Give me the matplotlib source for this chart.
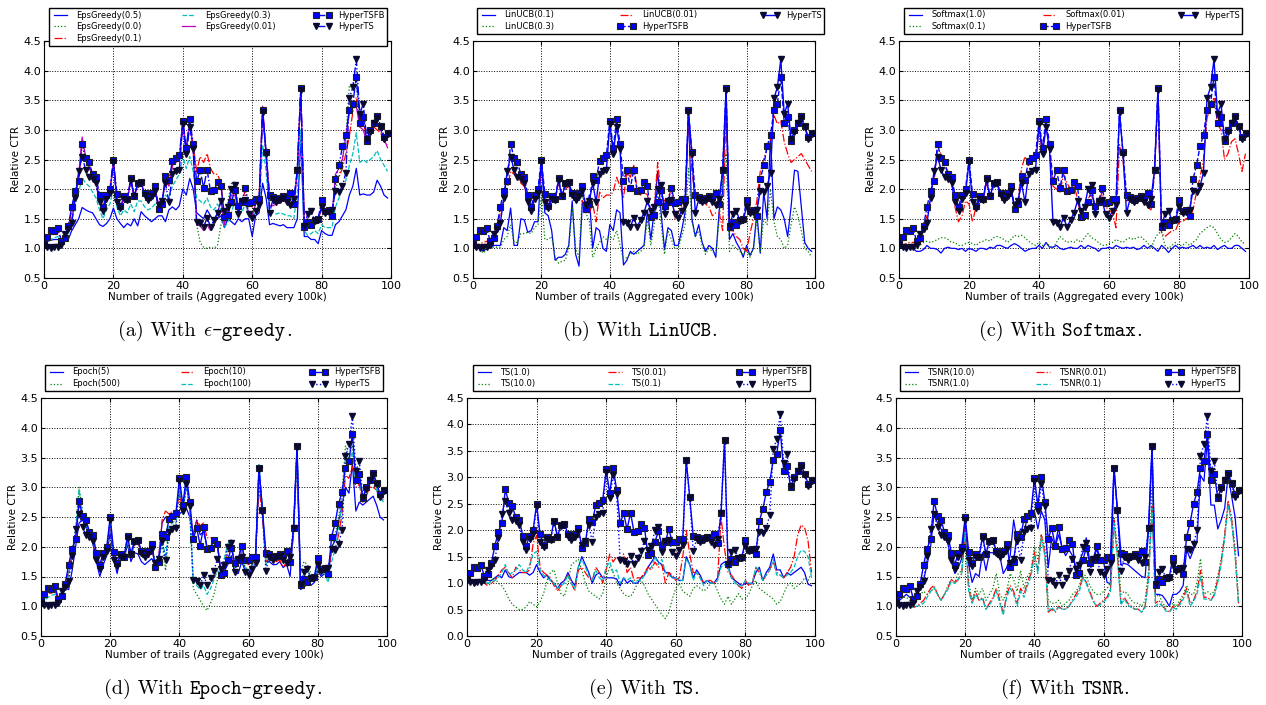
import numpy as np
import matplotlib
matplotlib.use("Agg")
import matplotlib.pyplot as plt

plt.rcParams['mathtext.fontset'] = 'cm'
plt.rcParams['font.family'] = 'DejaVu Sans'

trails = np.arange(100)

# shared curves (same in every panel)
hyper_tsfb = [1.10, 1.20, 1.31, 1.29, 1.34, 1.13, 1.17, 1.38, 1.70, 1.97,
              2.13, 2.77, 2.52, 2.45, 2.25, 2.20, 1.90, 1.70, 1.90, 2.00,
              2.50, 1.92, 1.72, 1.88, 1.83, 2.18, 1.88, 2.10, 2.12, 1.93,
              1.87, 1.93, 2.05, 1.66, 1.75, 2.22, 2.16, 2.47, 2.52, 2.57,
              3.15, 2.70, 3.18, 2.76, 2.13, 2.32, 2.02, 2.33, 1.96, 1.98,
              2.12, 2.05, 1.53, 1.56, 1.78, 1.98, 1.72, 1.78, 2.02, 1.77,
              1.78, 1.83, 1.83, 3.33, 2.62, 1.90, 1.87, 1.82, 1.85, 1.88,
              1.87, 1.93, 1.75, 2.32, 3.70, 1.36, 1.45, 1.40, 1.48, 1.50,
              1.81, 1.63, 1.65, 1.55, 2.17, 2.40, 2.72, 2.92, 3.33, 3.44,
              3.90, 3.12, 3.22, 2.82, 3.00, 3.12, 3.24, 3.07, 2.88, 2.95]
hyper_ts = [1.05, 1.02, 1.00, 1.02, 1.02, 1.05, 1.25, 1.33, 1.43, 1.85,
            2.30, 2.55, 2.33, 2.20, 2.17, 2.10, 1.78, 1.63, 1.83, 1.93,
            2.45, 1.78, 1.68, 1.83, 1.82, 2.15, 1.88, 2.08, 2.10, 1.90,
            1.82, 1.88, 1.97, 1.73, 1.80, 2.10, 1.78, 2.25, 2.30, 2.32,
            3.10, 2.60, 3.05, 2.68, 1.44, 1.42, 1.36, 1.52, 1.36, 1.48,
            1.60, 1.80, 1.63, 1.70, 2.00, 2.07, 1.58, 1.80, 1.82, 1.58,
            1.52, 1.63, 1.73, 3.30, 2.60, 1.60, 1.83, 1.78, 1.82, 1.85,
            1.78, 1.73, 1.83, 2.32, 3.68, 1.37, 1.58, 1.63, 1.47, 1.48,
            1.70, 1.60, 1.62, 1.65, 1.97, 1.95, 2.05, 2.28, 3.53, 3.72,
            4.19, 3.27, 3.44, 2.84, 2.97, 3.12, 3.20, 3.05, 2.84, 2.93]

# (a) epsilon-greedy
eps_05 = [1.05, 1.12, 1.14, 1.15, 1.15, 1.10, 1.12, 1.15, 1.30, 1.40,
          1.50, 1.69, 1.65, 1.62, 1.60, 1.50, 1.40, 1.37, 1.42, 1.50,
          1.68, 1.50, 1.42, 1.35, 1.42, 1.38, 1.50, 1.38, 1.62, 1.55,
          1.50, 1.45, 1.50, 1.55, 1.55, 1.45, 1.65, 1.70, 1.65, 1.72,
          2.00, 1.90, 2.18, 2.00, 1.60, 1.55, 1.50, 1.65, 1.55, 1.45,
          1.50, 1.55, 1.35, 1.50, 1.45, 1.40, 1.50, 1.45, 1.50, 1.50,
          1.20, 1.55, 1.60, 2.10, 1.85, 1.40, 1.42, 1.40, 1.38, 1.40,
          1.35, 1.35, 1.35, 1.50, 2.90, 1.20, 1.20, 1.15, 1.15, 1.08,
          1.30, 1.25, 1.22, 1.22, 1.40, 1.45, 1.55, 1.65, 1.90, 2.05,
          2.35, 1.90, 1.92, 1.90, 1.90, 1.95, 2.15, 2.05, 1.90, 1.85]
eps_00 = [1.05, 1.05, 1.05, 1.05, 1.05, 1.05, 1.20, 1.35, 1.50, 1.85,
          2.20, 2.80, 2.50, 2.35, 2.20, 2.10, 1.80, 1.65, 1.85, 1.95,
          2.45, 1.85, 1.70, 1.85, 1.82, 2.15, 1.88, 2.08, 2.10, 1.90,
          1.85, 1.90, 2.00, 1.70, 1.78, 2.15, 2.05, 2.40, 2.45, 2.50,
          3.15, 2.65, 3.15, 2.70, 1.40, 1.10, 1.02, 1.00, 1.02, 1.00,
          1.05, 1.40, 1.55, 1.80, 2.10, 2.12, 1.70, 1.75, 1.90, 1.62,
          1.55, 1.75, 1.80, 3.30, 2.60, 1.80, 1.85, 1.80, 1.83, 1.85,
          1.80, 1.80, 1.78, 2.30, 3.65, 1.40, 1.45, 1.45, 1.45, 1.48,
          1.70, 1.60, 1.62, 1.58, 2.00, 2.20, 2.50, 2.90, 3.75, 3.70,
          3.75, 3.20, 3.25, 2.90, 3.00, 3.10, 3.20, 3.05, 2.90, 2.85]
eps_01 = [1.08, 1.15, 1.25, 1.25, 1.28, 1.12, 1.15, 1.35, 1.65, 1.95,
          2.15, 2.80, 2.50, 2.40, 2.22, 2.15, 1.85, 1.68, 1.88, 1.98,
          2.45, 1.90, 1.72, 1.85, 1.82, 2.15, 1.88, 2.08, 2.10, 1.92,
          1.85, 1.90, 2.02, 1.70, 1.78, 2.15, 2.10, 2.40, 2.45, 2.52,
          3.10, 2.68, 3.12, 2.72, 2.30, 2.55, 2.45, 2.60, 2.35, 2.25,
          2.25, 2.10, 1.55, 1.60, 1.80, 1.95, 1.72, 1.78, 1.98, 1.75,
          1.70, 1.82, 1.90, 3.35, 2.60, 1.88, 1.85, 1.80, 1.85, 1.85,
          1.85, 1.88, 1.75, 2.30, 3.65, 1.40, 1.45, 1.45, 1.48, 1.48,
          1.75, 1.62, 1.62, 1.55, 2.10, 2.20, 2.35, 2.60, 2.90, 3.30,
          3.55, 3.05, 3.15, 2.85, 2.95, 3.05, 3.00, 2.95, 2.80, 2.75]
eps_03 = [1.05, 1.10, 1.15, 1.18, 1.20, 1.12, 1.15, 1.25, 1.50, 1.75,
          1.95, 2.20, 2.10, 2.05, 1.95, 1.85, 1.65, 1.50, 1.65, 1.75,
          2.00, 1.70, 1.55, 1.65, 1.60, 1.75, 1.62, 1.80, 1.80, 1.70,
          1.65, 1.68, 1.75, 1.65, 1.70, 1.90, 1.85, 2.05, 2.15, 2.25,
          2.55, 2.35, 2.55, 2.30, 1.85, 1.80, 1.75, 1.85, 1.70, 1.65,
          1.75, 1.65, 1.35, 1.45, 1.60, 1.80, 1.60, 1.60, 1.75, 1.55,
          1.55, 1.60, 1.65, 2.75, 2.30, 1.60, 1.60, 1.58, 1.60, 1.58,
          1.55, 1.55, 1.50, 1.95, 3.00, 1.30, 1.22, 1.25, 1.30, 1.25,
          1.40, 1.35, 1.35, 1.35, 1.70, 1.85, 2.00, 2.15, 2.40, 2.60,
          2.95, 2.45, 2.50, 2.45, 2.50, 2.55, 2.65, 2.50, 2.40, 2.30]
eps_001 = [1.05, 1.05, 1.05, 1.05, 1.05, 1.08, 1.20, 1.35, 1.45, 1.90,
           2.25, 2.88, 2.55, 2.40, 2.22, 2.12, 1.80, 1.65, 1.85, 1.95,
           2.45, 1.85, 1.70, 1.85, 1.82, 2.15, 1.88, 2.08, 2.10, 1.90,
           1.85, 1.90, 2.00, 1.75, 1.80, 2.15, 2.05, 2.40, 2.45, 2.50,
           3.15, 2.65, 3.15, 2.65, 1.40, 1.38, 1.30, 1.40, 1.30, 1.45,
           1.60, 1.80, 1.40, 1.65, 1.90, 1.90, 1.65, 1.75, 1.80, 1.60,
           1.55, 1.75, 1.80, 3.40, 2.60, 1.72, 1.72, 1.75, 1.80, 1.82,
           1.75, 1.72, 1.75, 2.30, 3.70, 1.40, 1.50, 1.45, 1.45, 1.50,
           1.65, 1.60, 1.65, 1.55, 2.25, 2.35, 2.50, 2.90, 3.30, 3.40,
           3.40, 3.05, 3.00, 2.80, 2.95, 3.05, 3.10, 3.00, 2.85, 2.70]

# (b) LinUCB
linucb_01 = [1.05, 1.00, 1.00, 0.95, 1.00, 1.00, 1.05, 1.05, 1.05, 1.35,
             1.30, 1.68, 1.05, 1.05, 1.50, 1.48, 1.27, 1.30, 1.45, 1.45,
             2.45, 1.60, 1.55, 1.30, 0.80, 0.85, 0.85, 0.90, 1.05, 1.80,
             0.90, 0.70, 1.80, 1.60, 1.90, 1.00, 1.35, 1.30, 1.00, 0.95,
             1.40, 1.30, 1.65, 1.60, 0.72, 0.80, 0.95, 0.90, 0.95, 1.00,
             1.05, 1.65, 1.15, 1.65, 2.30, 1.60, 0.98, 1.35, 1.30, 1.05,
             1.05, 1.30, 1.60, 3.30, 1.50, 1.20, 1.40, 1.10, 0.95, 1.05,
             1.00, 0.85, 1.65, 1.95, 3.60, 1.15, 1.25, 1.10, 1.00, 0.85,
             1.05, 0.88, 1.00, 1.60, 0.92, 1.95, 1.50, 2.90, 1.50, 1.70,
             1.65, 1.50, 1.20, 1.70, 2.32, 2.30, 1.70, 1.10, 1.00, 0.95]
linucb_03 = [1.00, 0.98, 0.98, 0.92, 0.98, 1.00, 1.02, 1.02, 1.02, 1.15,
             1.20, 1.40, 1.10, 1.10, 1.25, 1.25, 1.27, 1.25, 1.35, 1.40,
             1.90, 1.15, 1.15, 1.20, 0.85, 0.75, 0.78, 0.80, 1.00, 1.70,
             1.00, 0.85, 1.95, 1.60, 1.45, 0.85, 1.00, 1.10, 1.20, 1.15,
             1.20, 1.15, 1.30, 1.05, 0.80, 0.85, 0.90, 0.95, 0.90, 0.95,
             1.00, 1.50, 1.05, 1.40, 1.95, 1.40, 0.90, 1.30, 1.15, 1.00,
             1.00, 1.20, 1.40, 2.35, 1.45, 1.20, 1.30, 1.05, 0.90, 1.00,
             0.95, 0.90, 1.50, 2.15, 2.60, 0.95, 1.05, 1.00, 0.95, 0.90,
             1.00, 0.85, 1.00, 1.50, 0.95, 1.50, 1.40, 2.00, 1.45, 1.20,
             1.15, 1.00, 1.05, 1.40, 1.70, 1.55, 1.30, 1.00, 0.95, 0.85]
linucb_001 = [1.00, 1.05, 1.08, 1.10, 1.12, 1.15, 1.25, 1.35, 1.60, 1.80,
              2.00, 2.30, 2.25, 2.20, 2.10, 2.05, 1.80, 1.70, 1.85, 1.90,
              2.40, 1.90, 1.80, 1.85, 1.80, 2.10, 1.85, 2.00, 2.05, 1.90,
              1.85, 1.85, 1.80, 1.65, 1.60, 1.75, 1.45, 1.95, 1.85, 1.90,
              1.90, 1.95, 2.20, 2.05, 1.85, 2.30, 2.20, 2.40, 2.00, 1.90,
              1.95, 1.90, 1.60, 1.70, 2.45, 1.90, 1.80, 1.85, 2.00, 1.50,
              1.60, 1.70, 1.80, 3.20, 2.30, 1.90, 1.85, 1.80, 1.75, 1.70,
              1.55, 1.60, 1.60, 1.30, 3.40, 1.30, 1.30, 1.20, 1.15, 1.00,
              0.95, 1.25, 1.50, 1.80, 2.30, 2.50, 2.70, 2.80, 3.25, 3.10,
              3.15, 2.80, 2.60, 2.45, 2.50, 2.55, 2.60, 2.50, 2.40, 2.30]

# (c) Softmax
softmax_10 = [1.05, 1.00, 0.98, 1.00, 1.00, 0.95, 0.95, 0.98, 1.05, 1.00,
              1.00, 0.98, 0.92, 1.00, 1.02, 1.00, 1.00, 0.98, 1.00, 0.95,
              1.00, 0.98, 0.95, 1.00, 1.00, 0.98, 1.02, 1.00, 1.05, 1.05,
              1.02, 1.00, 1.05, 1.08, 1.05, 1.00, 0.95, 0.98, 1.00, 1.00,
              1.05, 1.00, 1.10, 1.02, 1.02, 1.05, 1.00, 0.98, 1.00, 1.02,
              1.00, 1.00, 1.05, 1.00, 1.05, 1.02, 1.00, 0.95, 1.00, 1.00,
              1.02, 1.00, 1.05, 1.02, 1.00, 1.02, 1.00, 1.02, 0.98, 1.00,
              1.05, 1.00, 1.05, 1.00, 0.95, 1.05, 1.00, 0.93, 1.00, 1.05,
              1.00, 1.02, 1.00, 1.02, 1.05, 1.00, 1.05, 1.00, 1.02, 1.00,
              1.05, 0.98, 1.02, 1.05, 1.00, 1.00, 1.05, 1.05, 1.00, 0.95]
softmax_01 = [1.05, 1.02, 1.00, 1.00, 1.00, 1.00, 1.05, 1.10, 1.12, 1.10,
              1.12, 1.15, 1.18, 1.18, 1.15, 1.10, 1.10, 1.05, 1.05, 1.08,
              1.10, 1.08, 1.05, 1.10, 1.12, 1.15, 1.12, 1.18, 1.20, 1.18,
              1.15, 1.10, 1.15, 1.22, 1.20, 1.22, 1.18, 1.12, 1.08, 1.05,
              1.10, 1.05, 1.08, 1.05, 1.00, 1.10, 1.20, 1.15, 1.10, 1.12,
              1.10, 1.15, 1.10, 1.18, 1.25, 1.18, 1.15, 1.10, 1.05, 1.05,
              1.08, 1.10, 1.15, 1.12, 1.10, 1.15, 1.18, 1.15, 1.18, 1.20,
              1.15, 1.10, 1.00, 1.15, 1.25, 1.28, 1.05, 1.00, 1.05, 1.10,
              1.05, 1.05, 1.10, 1.05, 1.10, 1.15, 1.25, 1.30, 1.35, 1.38,
              1.35, 1.25, 1.15, 1.10, 1.12, 1.18, 1.25, 1.20, 1.10, 1.08]
softmax_001 = [1.05, 1.05, 1.08, 1.10, 1.10, 1.10, 1.20, 1.35, 1.55, 1.85,
               2.20, 2.65, 2.60, 2.40, 2.30, 2.20, 1.70, 1.45, 1.55, 1.80,
               1.75, 1.45, 1.70, 1.85, 1.80, 2.10, 1.85, 2.05, 2.10, 1.90,
               1.85, 1.90, 2.00, 1.75, 1.80, 2.35, 2.55, 2.40, 2.45, 2.50,
               3.00, 2.60, 3.10, 2.65, 2.05, 2.00, 1.95, 2.25, 2.10, 2.00,
               2.05, 1.85, 1.50, 1.60, 1.85, 1.90, 1.70, 1.75, 1.95, 1.70,
               1.65, 1.60, 1.35, 2.75, 2.50, 1.80, 1.85, 1.80, 1.80, 1.82,
               1.75, 1.70, 1.65, 2.25, 3.60, 1.25, 1.20, 1.25, 1.30, 1.30,
               1.45, 1.45, 1.50, 1.50, 1.65, 1.95, 2.20, 2.50, 3.20, 3.40,
               3.55, 3.10, 3.00, 2.50, 2.60, 2.80, 2.85, 2.60, 2.30, 2.60]

# (d) Epoch-greedy
epoch_5 = [1.08, 1.20, 1.28, 1.28, 1.28, 1.10, 1.20, 1.30, 1.28, 1.60,
           2.00, 2.40, 2.45, 2.35, 2.20, 2.05, 1.75, 1.50, 1.70, 1.85,
           2.25, 1.80, 1.55, 1.85, 1.78, 2.05, 1.75, 1.90, 1.88, 1.75,
           1.70, 1.75, 1.80, 1.72, 1.80, 2.40, 2.50, 2.45, 2.50, 2.60,
           2.55, 2.60, 2.65, 2.50, 2.20, 2.45, 2.20, 2.25, 2.00, 2.00,
           2.10, 2.00, 1.60, 1.60, 1.70, 1.85, 1.55, 1.55, 1.75, 1.60,
           1.55, 1.70, 1.80, 3.30, 2.60, 1.75, 1.75, 1.70, 1.70, 1.75,
           1.65, 1.70, 1.50, 2.30, 3.65, 1.28, 1.32, 1.38, 1.35, 1.40,
           1.60, 1.50, 1.55, 1.50, 2.00, 2.10, 2.40, 2.70, 3.00, 2.90,
           3.40, 2.60, 2.75, 2.70, 2.75, 2.80, 2.85, 2.70, 2.50, 2.45]
epoch_500 = [1.05, 1.05, 1.05, 1.05, 1.05, 1.05, 1.20, 1.35, 1.50, 1.90,
             2.30, 3.00, 2.60, 2.40, 2.20, 2.10, 1.80, 1.65, 1.85, 1.95,
             2.40, 1.85, 1.70, 1.85, 1.80, 2.10, 1.85, 2.05, 2.10, 1.90,
             1.85, 1.90, 2.00, 1.75, 1.80, 2.05, 1.60, 2.30, 2.35, 2.40,
             3.00, 2.55, 3.05, 2.60, 1.30, 1.20, 1.10, 1.00, 0.93, 1.05,
             1.20, 1.45, 1.60, 1.80, 2.05, 2.10, 1.65, 1.80, 1.90, 1.65,
             1.60, 1.70, 1.80, 3.35, 2.60, 1.70, 1.80, 1.75, 1.80, 1.82,
             1.75, 1.72, 1.80, 2.30, 3.60, 1.55, 1.75, 1.70, 1.55, 1.50,
             1.70, 1.60, 1.60, 1.55, 1.95, 2.20, 2.50, 2.90, 3.70, 3.50,
             3.70, 3.10, 3.20, 2.80, 2.95, 3.05, 3.15, 3.00, 2.85, 2.75]
epoch_10 = [1.05, 1.12, 1.22, 1.22, 1.25, 1.10, 1.18, 1.32, 1.60, 1.90,
            2.15, 2.70, 2.50, 2.40, 2.25, 2.15, 1.85, 1.60, 1.85, 1.95,
            2.40, 1.85, 1.65, 1.85, 1.80, 2.10, 1.85, 2.05, 2.08, 1.90,
            1.82, 1.88, 1.95, 1.72, 1.80, 2.45, 2.60, 2.55, 2.60, 2.55,
            2.90, 2.60, 3.10, 2.65, 2.20, 2.45, 2.35, 2.40, 2.15, 2.15,
            2.15, 2.05, 1.55, 1.65, 1.90, 2.05, 1.70, 1.80, 2.05, 1.75,
            1.70, 1.80, 1.85, 3.00, 2.50, 1.75, 1.80, 1.75, 1.75, 1.78,
            1.65, 1.75, 1.75, 2.20, 3.55, 1.35, 1.42, 1.45, 1.45, 1.48,
            1.70, 1.60, 1.60, 1.55, 1.95, 1.95, 2.20, 2.55, 3.20, 3.15,
            3.35, 3.00, 3.05, 2.75, 2.85, 3.00, 3.00, 2.95, 2.80, 2.80]
epoch_100 = [1.05, 1.08, 1.15, 1.18, 1.20, 1.10, 1.15, 1.30, 1.55, 1.85,
             2.25, 2.95, 2.55, 2.40, 2.20, 2.10, 1.80, 1.65, 1.85, 1.95,
             2.40, 1.85, 1.70, 1.85, 1.80, 2.10, 1.85, 2.05, 2.10, 1.90,
             1.85, 1.90, 2.00, 1.75, 1.80, 2.15, 1.80, 2.35, 2.40, 2.45,
             3.05, 2.60, 3.05, 2.60, 1.40, 1.35, 1.28, 1.35, 1.20, 1.30,
             1.45, 1.60, 1.55, 1.80, 2.05, 2.12, 1.65, 1.80, 1.95, 1.65,
             1.60, 1.70, 1.80, 3.38, 2.60, 1.70, 1.80, 1.75, 1.80, 1.82,
             1.75, 1.72, 1.78, 2.25, 3.60, 1.40, 1.55, 1.60, 1.50, 1.48,
             1.65, 1.55, 1.55, 1.40, 1.75, 1.95, 2.30, 2.80, 3.50, 3.40,
             3.60, 3.05, 3.15, 2.80, 2.90, 3.05, 3.15, 2.95, 2.85, 2.75]

# (e) TS
ts_10 = [1.00, 1.00, 1.00, 1.02, 1.02, 1.05, 1.05, 1.05, 1.10, 1.15,
         1.10, 1.25, 1.12, 1.10, 1.15, 1.20, 1.20, 1.20, 1.15, 1.20,
         1.35, 1.20, 1.10, 1.15, 1.05, 1.00, 0.90, 1.00, 1.05, 1.20,
         1.05, 0.95, 1.30, 1.50, 1.35, 1.20, 1.00, 1.15, 1.20, 1.10,
         1.10, 1.10, 1.10, 1.08, 0.95, 1.10, 1.00, 1.05, 1.00, 1.00,
         1.10, 1.15, 1.30, 1.40, 1.50, 1.40, 1.35, 1.20, 1.20, 1.10,
         1.10, 1.05, 1.05, 1.50, 1.35, 1.10, 1.25, 1.15, 1.00, 1.05,
         1.00, 1.00, 1.10, 1.35, 1.40, 1.35, 1.10, 1.05, 1.00, 0.95,
         1.00, 0.98, 1.00, 1.20, 1.30, 1.05, 1.20, 1.30, 1.55, 1.25,
         1.25, 1.10, 1.20, 1.15, 1.20, 1.25, 1.30, 1.20, 0.98, 0.95]
ts_100 = [1.00, 1.00, 1.00, 1.00, 1.00, 1.00, 1.00, 1.05, 1.10, 1.00,
          0.95, 0.85, 0.70, 0.60, 0.55, 0.50, 0.50, 0.55, 0.65, 0.60,
          0.55, 0.65, 0.80, 1.05, 1.20, 1.25, 1.00, 0.80, 0.75, 1.00,
          1.35, 1.40, 1.45, 1.25, 1.00, 0.85, 0.80, 0.75, 0.70, 0.80,
          1.10, 1.30, 1.20, 1.00, 0.90, 0.80, 0.75, 0.75, 0.85, 1.00,
          1.05, 0.95, 0.80, 0.70, 0.60, 0.50, 0.40, 0.33, 0.45, 0.70,
          0.90, 1.00, 0.85, 0.80, 0.75, 0.90, 0.95, 0.90, 0.85, 0.90,
          1.00, 1.00, 0.85, 0.70, 0.60, 0.75, 0.60, 0.70, 0.80, 0.70,
          0.70, 0.80, 0.95, 1.05, 0.90, 0.85, 0.80, 0.75, 0.70, 0.60,
          0.65, 0.80, 0.95, 1.00, 0.90, 0.95, 1.00, 1.10, 1.05, 1.20]
ts_001 = [1.00, 1.00, 1.00, 1.00, 1.00, 1.00, 0.95, 1.00, 1.05, 1.15,
          1.25, 1.30, 1.20, 1.10, 1.30, 1.25, 1.20, 1.20, 1.25, 1.75,
          1.90, 1.30, 1.20, 1.15, 1.10, 0.95, 0.85, 0.95, 1.05, 1.15,
          1.00, 0.85, 1.25, 1.30, 1.20, 1.10, 1.05, 1.30, 1.20, 1.00,
          1.25, 1.55, 1.40, 1.50, 1.40, 1.55, 1.20, 1.30, 1.05, 1.10,
          1.10, 1.20, 1.30, 1.25, 1.40, 1.30, 1.35, 1.00, 1.20, 1.15,
          1.05, 1.10, 1.50, 2.00, 1.55, 1.20, 1.20, 1.10, 1.00, 1.05,
          1.05, 1.00, 1.05, 2.25, 1.65, 1.20, 1.15, 1.05, 0.95, 0.90,
          1.05, 0.95, 1.00, 1.30, 1.20, 1.05, 1.15, 1.25, 1.40, 1.20,
          1.15, 1.10, 1.20, 1.30, 1.50, 1.90, 2.10, 2.05, 1.80, 1.20]
ts_01 = [1.00, 1.00, 1.00, 1.02, 1.00, 1.02, 1.00, 1.02, 1.05, 1.10,
         1.20, 1.35, 1.15, 1.20, 1.25, 1.35, 1.25, 1.20, 1.35, 1.55,
         1.60, 1.25, 1.15, 1.10, 1.05, 1.00, 0.90, 0.95, 1.00, 1.15,
         1.00, 0.90, 1.30, 1.45, 1.30, 1.15, 1.05, 1.25, 1.10, 1.05,
         1.30, 1.40, 1.20, 1.25, 1.00, 1.10, 1.05, 1.10, 1.00, 1.05,
         1.05, 1.15, 1.25, 1.30, 1.50, 1.35, 1.45, 1.20, 1.15, 1.10,
         1.10, 1.05, 1.05, 1.45, 1.35, 1.05, 1.20, 1.10, 0.95, 1.05,
         1.00, 1.00, 1.05, 1.30, 1.35, 1.30, 1.10, 1.00, 0.95, 0.95,
         1.05, 1.00, 1.00, 1.30, 1.25, 1.05, 1.15, 1.25, 1.45, 1.15,
         1.15, 1.10, 1.15, 1.20, 1.30, 1.50, 1.62, 1.60, 1.50, 1.10]

# (f) TSNR
tsnr_100 = [1.05, 1.10, 1.15, 1.20, 1.15, 1.10, 1.20, 1.35, 1.45, 1.70,
            2.00, 2.55, 2.40, 2.30, 2.15, 2.05, 1.75, 1.55, 1.65, 1.80,
            2.40, 1.70, 1.40, 1.55, 1.50, 1.90, 1.60, 1.90, 1.90, 1.85,
            1.85, 1.55, 1.65, 1.85, 2.45, 2.10, 2.30, 2.25, 2.50, 2.45,
            2.60, 2.30, 2.60, 2.45, 1.65, 2.15, 2.00, 2.20, 2.00, 1.85,
            1.95, 1.85, 1.65, 1.75, 1.90, 2.15, 1.75, 1.80, 1.95, 1.80,
            1.75, 1.40, 1.38, 3.30, 2.60, 1.70, 1.72, 1.70, 1.65, 1.60,
            1.55, 1.50, 1.48, 2.30, 3.60, 1.20, 1.20, 1.18, 1.10, 1.00,
            1.20, 1.20, 1.25, 1.35, 1.95, 1.80, 1.95, 2.10, 3.20, 3.10,
            3.80, 2.70, 2.70, 2.30, 2.45, 2.65, 3.20, 2.85, 2.50, 1.85]
tsnr_10 = [1.05, 1.10, 1.15, 1.15, 1.10, 1.00, 1.10, 1.20, 1.25, 1.20,
           1.25, 1.30, 1.20, 1.10, 1.20, 1.35, 1.45, 1.40, 1.55, 1.60,
           2.20, 1.40, 1.10, 1.30, 1.20, 1.30, 1.10, 1.20, 1.30, 1.55,
           1.20, 1.10, 1.25, 1.55, 1.45, 1.25, 1.60, 1.30, 1.50, 1.60,
           2.00, 1.80, 2.20, 2.00, 1.10, 1.05, 1.05, 1.10, 1.00, 1.05,
           1.10, 1.20, 1.25, 1.35, 1.55, 1.50, 1.35, 1.25, 1.20, 1.20,
           1.25, 1.30, 1.40, 2.50, 2.00, 1.20, 1.25, 1.20, 1.10, 1.05,
           1.05, 1.00, 1.10, 1.60, 3.00, 1.15, 1.20, 1.05, 1.00, 1.00,
           1.05, 1.00, 1.10, 1.20, 1.35, 1.20, 1.20, 1.40, 1.80, 1.20,
           1.25, 1.20, 1.25, 1.50, 1.80, 2.20, 2.70, 2.50, 2.00, 1.10]
tsnr_001 = [1.00, 1.00, 1.00, 1.00, 1.00, 0.98, 1.00, 1.05, 1.10, 1.20,
            1.30, 1.35, 1.20, 1.10, 1.20, 1.30, 1.45, 1.40, 1.45, 1.55,
            2.30, 1.30, 1.05, 1.25, 1.10, 1.15, 0.95, 1.05, 1.15, 1.30,
            1.10, 0.88, 1.20, 1.35, 1.25, 1.05, 1.30, 1.20, 1.40, 1.55,
            1.90, 1.60, 2.20, 1.90, 0.90, 0.95, 0.90, 1.00, 0.95, 0.95,
            1.00, 1.10, 1.20, 1.30, 1.50, 1.40, 1.25, 1.10, 1.00, 1.05,
            1.10, 1.15, 1.30, 2.45, 1.85, 1.05, 1.15, 1.05, 1.00, 0.95,
            0.95, 0.90, 1.00, 1.50, 2.70, 1.05, 1.10, 1.00, 0.95, 0.90,
            1.00, 0.95, 1.05, 1.15, 1.30, 1.05, 1.10, 1.25, 1.60, 1.15,
            1.15, 1.10, 1.20, 1.45, 1.75, 2.20, 2.78, 2.45, 1.90, 1.05]
tsnr_01 = [1.00, 1.00, 1.00, 1.00, 1.00, 0.98, 1.00, 1.02, 1.05, 1.15,
           1.25, 1.32, 1.20, 1.10, 1.20, 1.28, 1.42, 1.38, 1.45, 1.55,
           2.25, 1.25, 1.05, 1.20, 1.10, 1.12, 0.95, 1.02, 1.12, 1.25,
           1.05, 0.85, 1.15, 1.30, 1.20, 1.00, 1.25, 1.15, 1.35, 1.50,
           1.85, 1.55, 2.15, 1.85, 0.92, 0.98, 0.92, 0.98, 0.95, 0.95,
           1.00, 1.08, 1.15, 1.25, 1.48, 1.38, 1.22, 1.08, 1.00, 1.02,
           1.08, 1.12, 1.25, 2.40, 1.80, 1.02, 1.12, 1.02, 0.98, 0.95,
           0.95, 0.90, 0.98, 1.45, 2.65, 1.00, 1.05, 1.00, 0.92, 0.90,
           0.98, 0.95, 1.02, 1.12, 1.25, 1.00, 1.08, 1.20, 1.50, 1.12,
           1.12, 1.10, 1.18, 1.40, 1.70, 2.15, 2.70, 2.40, 1.85, 1.05]

BLUE = (0, 0, 1)
GREEN = (0, 0.5, 0)
RED = (1, 0, 0)
CYAN = (0, 0.75, 0.75)
MAGENTA = (0.75, 0, 0.75)

RM, TT, MATH = 'cmr10', 'cmtt10', 'math'

panels = [
    dict(pos=[44, 41, 347, 237], cap=[('(a) With ', RM), (r'$\epsilon$', MATH), ('-greedy', TT), ('.', RM)],
         capx=205, capy=336,
         ylo=0.5, leg=(49, 8, 338), fb_ls='-.', ts_ls='-.',
         series=[('EpsGreedy(0.5)', eps_05, BLUE, '-'),
                 ('EpsGreedy(0.0)', eps_00, GREEN, ':'),
                 ('EpsGreedy(0.1)', eps_01, RED, '-.'),
                 ('EpsGreedy(0.3)', eps_03, CYAN, '--'),
                 ('EpsGreedy(0.01)', eps_001, MAGENTA, '-')]),
    dict(pos=[473, 41, 342, 237], cap=[('(b) With ', RM), ('LinUCB', TT), ('.', RM)],
         capx=640, capy=336,
         ylo=0.5, leg=(477, 8, 347), fb_ls='--', ts_ls='-',
         series=[('LinUCB(0.1)', linucb_01, BLUE, '-'),
                 ('LinUCB(0.3)', linucb_03, GREEN, ':'),
                 ('LinUCB(0.01)', linucb_001, RED, '-.')]),
    dict(pos=[899, 41, 350, 237], cap=[('(c) With ', RM), ('Softmax', TT), ('.', RM)],
         capx=1060, capy=336,
         ylo=0.5, leg=(904, 8, 338), fb_ls='--', ts_ls='-',
         series=[('Softmax(1.0)', softmax_10, BLUE, '-'),
                 ('Softmax(0.1)', softmax_01, GREEN, ':'),
                 ('Softmax(0.01)', softmax_001, RED, '-.')]),
    dict(pos=[41, 398, 346, 238], cap=[('(d) With ', RM), ('Epoch-greedy', TT), ('.', RM)],
         capx=213, capy=694,
         ylo=0.5, leg=(45, 365, 338), fb_ls='-', ts_ls=':',
         series=[('Epoch(5)', epoch_5, BLUE, '-'),
                 ('Epoch(500)', epoch_500, GREEN, ':'),
                 ('Epoch(10)', epoch_10, RED, '-.'),
                 ('Epoch(100)', epoch_100, CYAN, '--')]),
    dict(pos=[467, 398, 348, 238], cap=[('(e) With ', RM), ('TS', TT), ('.', RM)],
         capx=644, capy=694,
         ylo=0.0, leg=(473, 365, 337), fb_ls='-', ts_ls=':',
         series=[('TS(1.0)', ts_10, BLUE, '-'),
                 ('TS(10.0)', ts_100, GREEN, ':'),
                 ('TS(0.01)', ts_001, RED, '-.'),
                 ('TS(0.1)', ts_01, CYAN, '--')]),
    dict(pos=[896, 398, 346, 238], cap=[('(f) With ', RM), ('TSNR', TT), ('.', RM)],
         capx=1065, capy=694,
         ylo=0.5, leg=(900, 365, 339), fb_ls='-', ts_ls=':',
         series=[('TSNR(10.0)', tsnr_100, BLUE, '-'),
                 ('TSNR(1.0)', tsnr_10, GREEN, ':'),
                 ('TSNR(0.01)', tsnr_001, RED, '-.'),
                 ('TSNR(0.1)', tsnr_01, CYAN, '--')]),
]

W, H = 1266, 705
fig = plt.figure(figsize=(W / 100, H / 100), dpi=100)
renderer = fig.canvas.get_renderer()


def caption(pieces, cx, cy, size=14.5):
    # lay the pieces out left to right, centred on cx, baseline at cy (pixels from top)
    texts = []
    for s, fam in pieces:
        kw = {} if fam == MATH else {'family': fam}
        texts.append(fig.text(0, 1 - cy / H, s, fontsize=size, va='baseline', ha='left', **kw))
    widths = [t.get_window_extent(renderer).width for t in texts]
    x = cx - sum(widths) / 2
    for t, wd in zip(texts, widths):
        t.set_x(x / W)
        x += wd


for p in panels:
    l, t, w, h = p['pos']
    ax = fig.add_axes([l / W, 1 - (t + h) / H, w / W, h / H])
    for name, vals, col, ls in p['series']:
        ax.plot(trails, vals, color=col, linestyle=ls, linewidth=0.9, label=name)
    ax.plot(trails, hyper_tsfb, color=BLUE, linestyle=p['fb_ls'], linewidth=1.0,
            marker='s', markersize=4.8, markerfacecolor=BLUE, markeredgecolor='#202020',
            markeredgewidth=0.8, label='HyperTSFB')
    ax.plot(trails, hyper_ts, color=BLUE, linestyle=p['ts_ls'], linewidth=1.0,
            marker='v', markersize=4.8, markerfacecolor='#0a0a30', markeredgecolor='#0a0a30',
            label='HyperTS')
    ax.set_xlim(0, 100)
    ax.set_ylim(p['ylo'], 4.5)
    ax.set_xticks(np.arange(0, 101, 20))
    ax.set_yticks(np.arange(p['ylo'], 4.51, 0.5))
    ax.yaxis.set_major_formatter(matplotlib.ticker.FormatStrFormatter('%.1f'))
    ax.grid(True, linestyle=':', color='k', linewidth=0.7)
    ax.tick_params(direction='in', length=3, top=True, right=True, labelsize=8, pad=2)
    ax.set_xlabel('Number of trails (Aggregated every 100k)', fontsize=7.5, labelpad=1)
    ax.set_ylabel('Relative CTR', fontsize=7.5, labelpad=2)

    lx, ly, lw = p['leg']
    ax.legend(loc='upper left', ncol=3, mode='expand', fontsize=6,
              bbox_to_anchor=((lx - l) / w, (t + h - ly) / h - 0.3, lw / w, 0.3),
              numpoints=2, handlelength=2.2, borderaxespad=0, fancybox=False,
              framealpha=1, edgecolor='k', labelspacing=0.35, borderpad=0.3,
              columnspacing=1.0)

    caption(p['cap'], p['capx'], p['capy'])

fig.savefig('out.png', dpi=100)
